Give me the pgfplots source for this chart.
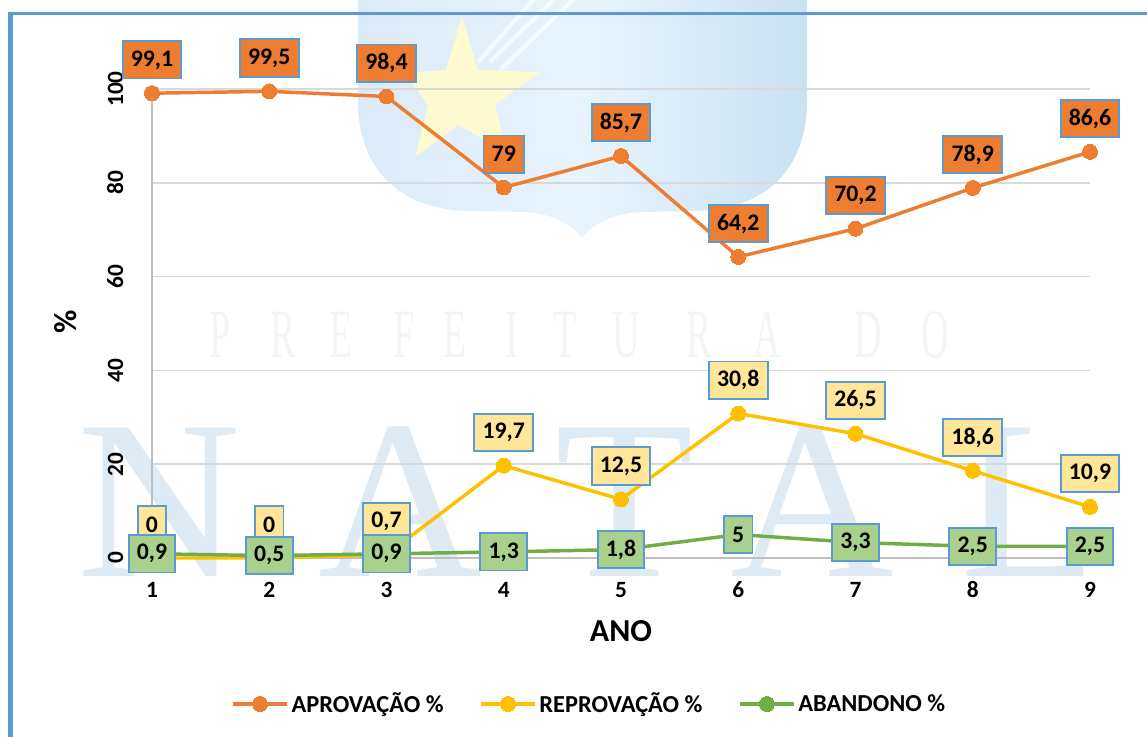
\documentclass[border=0pt]{standalone}
\usepackage{pgfplots}
\pgfplotsset{compat=1.18}
\usepackage{fontspec}
\setmainfont{Carlito}
\newfontfamily\wmfont{Liberation Serif}
\definecolor{frameblue}{HTML}{5B9BD5}
\definecolor{cA}{HTML}{ED7D31}
\definecolor{cR}{HTML}{FFC000}
\definecolor{cB}{HTML}{70AD47}
\definecolor{fR}{HTML}{FFE699}
\definecolor{fB}{HTML}{A9D18E}
\definecolor{wmN}{HTML}{DFEBF4}
\definecolor{wmP}{HTML}{F4F4F4}
\definecolor{shL}{HTML}{DCEBF8}
\definecolor{shM}{HTML}{E8F4FD}
\definecolor{shR}{HTML}{C9E1F1}
\definecolor{starc}{HTML}{FDFBCF}
\pgfplotstableread{
x y label
1 99.1 99,1
2 99.5 99,5
3 98.4 98,4
4 79 79
5 85.7 85,7
6 64.2 64,2
7 70.2 70,2
8 78.9 78,9
9 86.6 86,6
}\tabA
\pgfplotstableread{
x y label
1 0 0
2 0 0
3 0.7 0,7
4 19.7 19,7
5 12.5 12,5
6 30.8 30,8
7 26.5 26,5
8 18.6 18,6
9 10.9 10,9
}\tabR
\pgfplotstableread{
x y label
1 0.9 0,9
2 0.5 0,5
3 0.9 0,9
4 1.3 1,3
5 1.8 1,8
6 5 5
7 3.3 3,3
8 2.5 2,5
9 2.5 2,5
}\tabB
\pgfplotsset{
 lbl/.style 2 args={
  nodes near coords,
  point meta=explicit symbolic,
  every node near coord/.append style={
    anchor=center, yshift=#2, fill=#1, draw=frameblue, line width=1.4pt,
    inner xsep=6.2pt, inner ysep=0pt, minimum height=28pt,
    text=black, font=\fontsize{17.8}{18}\selectfont\bfseries},
 },
 ser/.style={color=#1, line width=2.6pt, mark=*, mark size=5.6pt,
   mark options={fill=#1, draw=#1, line width=0pt, solid}},
}
\begin{document}
\begin{tikzpicture}
\useasboundingbox (0,0) rectangle (860.25pt,552.75pt);
\clip (0,0) rectangle (860.25pt,552.75pt);
\begin{scope}[x=0.75pt,y=-0.75pt,yshift=552.75pt]
 % watermark shield
 \shade[left color=shL, right color=shR, middle color=shM]
  (358,-2) -- (358,105) .. controls (360,170) and (400,210) .. (470,211)
  -- (525,212) .. controls (555,214) and (572,225) .. (582,238)
  .. controls (592,225) and (610,214) .. (640,212) -- (695,211)
  .. controls (765,210) and (805,170) .. (807,105) -- (807,-2) -- cycle;
 \fill[starc] (462,16) -- (478,70) -- (540,72) -- (495,105) -- (507,152)
   -- (458,125) -- (415,157) -- (428,105) -- (405,73) -- (446,70) -- cycle;
 \draw[white,line width=3pt,opacity=.7] (478,62) -- (535,-2);
 \draw[white,line width=3pt,opacity=.7] (490,62) -- (555,-2);
 \draw[white,line width=3pt,opacity=.7] (500,70) -- (575,-2);
 % watermark text
 \foreach \c/\x in {N/159,A/400,T/625,A/812,L/1030}
   \node[text=wmN,font=\wmfont\fontsize{170}{170}\selectfont,anchor=base,inner sep=0pt] at (\x,577) {\c};
 \foreach \c/\x in {P/220,R/283,E/341,F/404,E/455,I/512,T/565,U/626,R/699,A/767,D/868,O/935}
   \node[text=wmP,font=\wmfont\fontsize{52}{52}\selectfont,anchor=base,inner sep=0pt,xscale=0.55] at (\x,358) {\c};
 % frame
 \fill[frameblue] (8,12) rectangle (1147,15);
 \fill[frameblue] (8,12) rectangle (13,737);
\end{scope}
\begin{axis}[
  at={(114pt,134.25pt)}, anchor=south west,
  scale only axis, width=703.5pt, height=351.75pt,
  xmin=1, xmax=9, ymin=0, ymax=100,
  clip=false,
  axis lines=left,
  axis line style={-, draw=black!25, line width=1.1pt},
  xtick={1,...,9}, ytick={0,20,...,100},
  major tick length=0pt,
  ymajorgrids, grid style={draw=black!15, line width=1.1pt},
  /pgf/number format/assume math mode=true,
  ticklabel style={font=\fontsize{17.5}{18}\selectfont\bfseries},
  yticklabel style={rotate=90, anchor=south, yshift=18pt},
  xticklabel style={anchor=center, yshift=-24pt},
  xlabel={ANO}, ylabel={\%},
  label style={font=\fontsize{24}{25}\selectfont\bfseries},
  xlabel style={at={(axis description cs:0.5,-0.1557)}, anchor=center},
  ylabel style={at={(axis description cs:-0.0917,0.503)}, anchor=center, rotate=0},
  legend style={draw=none, fill=none, at={(axis description cs:0.4665,-0.3113)}, anchor=center,
     legend columns=3, font=\fontsize{18.3}{20}\selectfont\bfseries,
     /tikz/every even column/.append style={column sep=24.75pt}},
  legend image code/.code={\draw[mark repeat=2,mark phase=2,#1] plot coordinates {(0pt,0pt) (20.25pt,0pt) (40.5pt,0pt)};},
]
\addplot[ser=cA, lbl={cA}{25pt}] table[x=x,y=y,meta=label] {\tabA};
\addlegendentry{APROVAÇÃO \%}
\addplot[ser=cR, lbl={fR}{25pt}] table[x=x,y=y,meta=label] {\tabR};
\addlegendentry{REPROVAÇÃO \%}
\addplot[ser=cB, lbl={fB}{0pt}] table[x=x,y=y,meta=label] {\tabB};
\addlegendentry{ABANDONO \%}
\end{axis}
\end{tikzpicture}
\end{document}
